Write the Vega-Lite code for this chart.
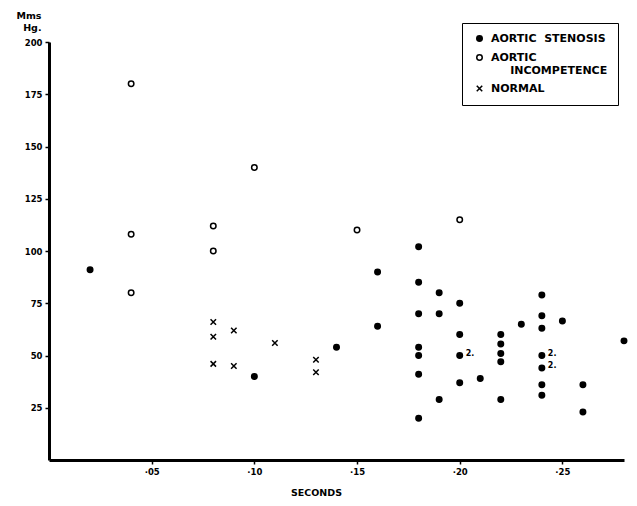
{
  "$schema": "https://vega.github.io/schema/vega-lite/v6.json",
  "width": 575,
  "height": 418,
  "autosize": {"type": "none"},
  "padding": {"left": 49, "top": 42, "right": 13, "bottom": 46},
  "background": "white",
  "config": {
    "view": {"stroke": null},
    "font": "DejaVu Sans",
    "axis": {
      "grid": false,
      "domainColor": "black",
      "domainWidth": 3,
      "tickColor": "black",
      "tickWidth": 1.5,
      "tickSize": 4,
      "labelColor": "black",
      "labelFont": "DejaVu Sans",
      "labelFontWeight": "bold",
      "labelFontSize": 8.5,
      "titleColor": "black",
      "titleFont": "DejaVu Sans",
      "titleFontWeight": "bold",
      "titleFontSize": 9
    },
    "legend": {
      "labelFont": "DejaVu Sans",
      "labelFontWeight": "bold",
      "labelFontSize": 11,
      "labelColor": "black",
      "strokeColor": "black",
      "padding": 10,
      "rowPadding": 6,
      "symbolOffset": 2,
      "labelOffset": 6,
      "symbolSize": 30,
      "symbolStrokeWidth": 1.5
    }
  },
  "data": {
    "values": [
      {"group": "AORTIC STENOSIS", "seconds": 0.02, "mmhg": 91, "note": ""},
      {"group": "AORTIC STENOSIS", "seconds": 0.10, "mmhg": 40, "note": ""},
      {"group": "AORTIC STENOSIS", "seconds": 0.14, "mmhg": 54, "note": ""},
      {"group": "AORTIC STENOSIS", "seconds": 0.16, "mmhg": 90, "note": ""},
      {"group": "AORTIC STENOSIS", "seconds": 0.16, "mmhg": 64, "note": ""},
      {"group": "AORTIC STENOSIS", "seconds": 0.18, "mmhg": 102, "note": ""},
      {"group": "AORTIC STENOSIS", "seconds": 0.18, "mmhg": 85, "note": ""},
      {"group": "AORTIC STENOSIS", "seconds": 0.18, "mmhg": 70, "note": ""},
      {"group": "AORTIC STENOSIS", "seconds": 0.18, "mmhg": 54, "note": ""},
      {"group": "AORTIC STENOSIS", "seconds": 0.18, "mmhg": 50, "note": ""},
      {"group": "AORTIC STENOSIS", "seconds": 0.18, "mmhg": 41, "note": ""},
      {"group": "AORTIC STENOSIS", "seconds": 0.18, "mmhg": 20, "note": ""},
      {"group": "AORTIC STENOSIS", "seconds": 0.19, "mmhg": 80, "note": ""},
      {"group": "AORTIC STENOSIS", "seconds": 0.19, "mmhg": 70, "note": ""},
      {"group": "AORTIC STENOSIS", "seconds": 0.19, "mmhg": 29, "note": ""},
      {"group": "AORTIC STENOSIS", "seconds": 0.20, "mmhg": 75, "note": ""},
      {"group": "AORTIC STENOSIS", "seconds": 0.20, "mmhg": 60, "note": ""},
      {"group": "AORTIC STENOSIS", "seconds": 0.20, "mmhg": 50, "note": "2."},
      {"group": "AORTIC STENOSIS", "seconds": 0.20, "mmhg": 37, "note": ""},
      {"group": "AORTIC STENOSIS", "seconds": 0.21, "mmhg": 39, "note": ""},
      {"group": "AORTIC STENOSIS", "seconds": 0.22, "mmhg": 60, "note": ""},
      {"group": "AORTIC STENOSIS", "seconds": 0.22, "mmhg": 55.5, "note": ""},
      {"group": "AORTIC STENOSIS", "seconds": 0.22, "mmhg": 51, "note": ""},
      {"group": "AORTIC STENOSIS", "seconds": 0.22, "mmhg": 47, "note": ""},
      {"group": "AORTIC STENOSIS", "seconds": 0.22, "mmhg": 29, "note": ""},
      {"group": "AORTIC STENOSIS", "seconds": 0.23, "mmhg": 65, "note": ""},
      {"group": "AORTIC STENOSIS", "seconds": 0.24, "mmhg": 79, "note": ""},
      {"group": "AORTIC STENOSIS", "seconds": 0.24, "mmhg": 69, "note": ""},
      {"group": "AORTIC STENOSIS", "seconds": 0.24, "mmhg": 63, "note": ""},
      {"group": "AORTIC STENOSIS", "seconds": 0.24, "mmhg": 50, "note": "2."},
      {"group": "AORTIC STENOSIS", "seconds": 0.24, "mmhg": 44, "note": "2."},
      {"group": "AORTIC STENOSIS", "seconds": 0.24, "mmhg": 36, "note": ""},
      {"group": "AORTIC STENOSIS", "seconds": 0.24, "mmhg": 31, "note": ""},
      {"group": "AORTIC STENOSIS", "seconds": 0.25, "mmhg": 66.5, "note": ""},
      {"group": "AORTIC STENOSIS", "seconds": 0.26, "mmhg": 36, "note": ""},
      {"group": "AORTIC STENOSIS", "seconds": 0.26, "mmhg": 23, "note": ""},
      {"group": "AORTIC STENOSIS", "seconds": 0.28, "mmhg": 57, "note": ""},
      {"group": "AORTIC INCOMPETENCE", "seconds": 0.04, "mmhg": 180, "note": ""},
      {"group": "AORTIC INCOMPETENCE", "seconds": 0.04, "mmhg": 108, "note": ""},
      {"group": "AORTIC INCOMPETENCE", "seconds": 0.04, "mmhg": 80, "note": ""},
      {"group": "AORTIC INCOMPETENCE", "seconds": 0.08, "mmhg": 112, "note": ""},
      {"group": "AORTIC INCOMPETENCE", "seconds": 0.08, "mmhg": 100, "note": ""},
      {"group": "AORTIC INCOMPETENCE", "seconds": 0.10, "mmhg": 140, "note": ""},
      {"group": "AORTIC INCOMPETENCE", "seconds": 0.15, "mmhg": 110, "note": ""},
      {"group": "AORTIC INCOMPETENCE", "seconds": 0.20, "mmhg": 115, "note": ""},
      {"group": "NORMAL", "seconds": 0.08, "mmhg": 66, "note": ""},
      {"group": "NORMAL", "seconds": 0.08, "mmhg": 59, "note": ""},
      {"group": "NORMAL", "seconds": 0.08, "mmhg": 46, "note": ""},
      {"group": "NORMAL", "seconds": 0.09, "mmhg": 62, "note": ""},
      {"group": "NORMAL", "seconds": 0.09, "mmhg": 45, "note": ""},
      {"group": "NORMAL", "seconds": 0.11, "mmhg": 56, "note": ""},
      {"group": "NORMAL", "seconds": 0.13, "mmhg": 48, "note": ""},
      {"group": "NORMAL", "seconds": 0.13, "mmhg": 42, "note": ""}
    ]
  },
  "layer": [
    {
      "mark": {"type": "point", "filled": true, "stroke": "black", "strokeWidth": 1.5, "size": 30, "opacity": 1},
      "encoding": {
        "x": {
          "field": "seconds", "type": "quantitative",
          "scale": {"domain": [0, 0.28], "nice": false, "zero": true},
          "axis": {
            "values": [0.05, 0.1, 0.15, 0.2, 0.25],
            "labelExpr": "'·' + slice(format(datum.value, '.2f'), 2)",
            "labelPadding": 3,
            "title": "SECONDS",
            "titleFontSize": 9.5,
            "titleX": 267,
            "titleY": 27,
            "titleAnchor": "middle"
          }
        },
        "y": {
          "field": "mmhg", "type": "quantitative",
          "scale": {"domain": [0, 200], "nice": false},
          "axis": {
            "values": [25, 50, 75, 100, 125, 150, 175, 200],
            "labelPadding": 3,
            "title": ["Mms", "Hg."],
            "titleAngle": 0,
            "titleAlign": "right",
            "titleBaseline": "alphabetic",
            "titleX": -8,
            "titleY": -24,
            "titleLineHeight": 12,
            "titleFontSize": 9.5
          }
        },
        "shape": {
          "field": "group", "type": "nominal",
          "scale": {
            "domain": ["AORTIC STENOSIS", "AORTIC INCOMPETENCE", "NORMAL"],
            "range": ["circle", "circle", "M-1,-1L1,1M1,-1L-1,1"]
          },
          "legend": {
            "title": null,
            "orient": "none",
            "legendX": 413,
            "legendY": -19,
            "labelExpr": "datum.label == 'AORTIC INCOMPETENCE' ? ['AORTIC', '\u200b\u00a0\u00a0\u00a0\u00a0\u00a0INCOMPETENCE'] : datum.label == 'AORTIC STENOSIS' ? 'AORTIC\u00a0\u00a0STENOSIS' : datum.label"
          }
        },
        "fill": {
          "field": "group", "type": "nominal",
          "scale": {
            "domain": ["AORTIC STENOSIS", "AORTIC INCOMPETENCE", "NORMAL"],
            "range": ["black", "white", "transparent"]
          },
          "legend": {
            "title": null,
            "orient": "none",
            "legendX": 413,
            "legendY": -19,
            "labelExpr": "datum.label == 'AORTIC INCOMPETENCE' ? ['AORTIC', '\u200b\u00a0\u00a0\u00a0\u00a0\u00a0INCOMPETENCE'] : datum.label == 'AORTIC STENOSIS' ? 'AORTIC\u00a0\u00a0STENOSIS' : datum.label"
          }
        }
      }
    },
    {
      "transform": [{"filter": "datum.note != ''"}],
      "mark": {"type": "text", "align": "left", "baseline": "middle", "dx": 6, "dy": -2, "fontSize": 8, "fontWeight": "bold", "color": "black", "font": "DejaVu Sans"},
      "encoding": {
        "x": {"field": "seconds", "type": "quantitative"},
        "y": {"field": "mmhg", "type": "quantitative"},
        "text": {"field": "note"}
      }
    }
  ]
}
